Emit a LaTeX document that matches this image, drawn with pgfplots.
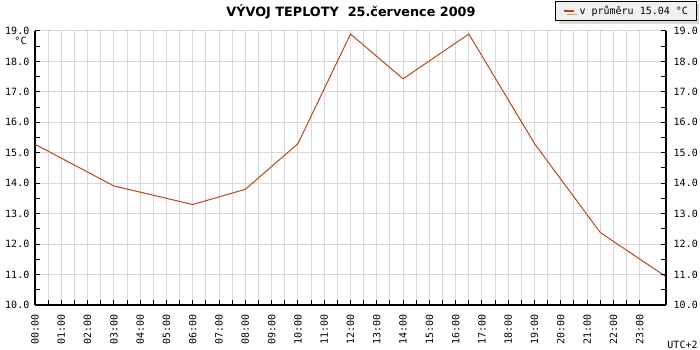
\documentclass[border=0pt]{standalone}
\usepackage{fontspec}
\setmainfont{DejaVu Sans}
\setmonofont{DejaVu Sans Mono}
\usepackage{pgfplots}
\pgfplotsset{compat=1.18}
\usetikzlibrary{shadows}
\definecolor{tline}{RGB}{184,72,24}
\definecolor{tgrid}{RGB}{216,216,216}
\newcommand\tickfont{\ttfamily\fontsize{10}{12}\selectfont}
\begin{document}
\begin{tikzpicture}[x=1pt,y=1pt]
\path[use as bounding box] (0,0) rectangle (700,350);
\begin{axis}[
 at={(35pt,45pt)}, anchor=south west, scale only axis, width=631pt, height=274pt,
 xmin=0,xmax=24,ymin=10,ymax=19,
 axis x line=bottom, axis y line=left, axis line style={-, line width=1.2pt},
 tick align=inside, major tick length=5pt, minor tick length=5pt,
 tick style={black, line width=1pt},
 xtick={0,...,23}, minor x tick num=1,
 xticklabels={00:00,01:00,02:00,03:00,04:00,05:00,06:00,07:00,08:00,09:00,10:00,11:00,12:00,13:00,14:00,15:00,16:00,17:00,18:00,19:00,20:00,21:00,22:00,23:00},
 x tick label style={rotate=90, anchor=east, inner sep=9pt},
 ytick={10,...,19}, minor y tick num=1,
 y tick label style={inner sep=5.5pt, /pgf/number format/fixed, /pgf/number format/fixed zerofill, /pgf/number format/precision=1},
 grid style={tgrid, line width=1pt}, xmajorgrids, xminorgrids, ymajorgrids,
 tick label style={font=\tickfont},
 /pgf/number format/assume math mode=true,
 legend style={at={(axis description cs:1.049,1.1095)}, anchor=north east, draw=black, fill=gray!12, line width=1pt,
   drop shadow={shadow xshift=3pt, shadow yshift=-3pt, fill=gray!60},
   font=\tickfont, inner xsep=6.5pt, inner ysep=2.5pt},
 legend cell align=left,
 legend image code/.code={\draw[#1, line width=2pt] (0pt,0pt) -- (10pt,0pt); \path (-1pt,0pt) (13.5pt,0pt);},
]
\addplot[tline, line width=1pt] coordinates {
(0,15.28) (3,13.91) (6,13.3) (8,13.8) (10,15.3) (12,18.9) (14,17.43) (16.5,18.9) (19,15.3) (21.5,12.38) (24,10.93)
};
\addlegendentry{v průměru 15.04 °C}
\end{axis}
\begin{axis}[
 at={(35pt,45pt)}, anchor=south west, scale only axis, width=631pt, height=274pt,
 xmin=0,xmax=24,ymin=10,ymax=19,
 axis x line=none, axis y line=right, axis line style={-, line width=1.2pt},
 tick align=inside, major tick length=5pt, minor tick length=5pt,
 tick style={black, line width=1pt},
 xtick=\empty,
 ytick={10,...,19}, minor y tick num=1,
 y tick label style={inner sep=7.5pt, /pgf/number format/fixed, /pgf/number format/fixed zerofill, /pgf/number format/precision=1},
 tick label style={font=\tickfont},
 /pgf/number format/assume math mode=true,
]
\addplot[draw=none, forget plot] coordinates {(0,10)};
\end{axis}
\node[font=\bfseries\fontsize{12.8}{15}\selectfont] at (351,338) {VÝVOJ TEPLOTY\ \ 25.července 2009};
\node[font=\tickfont] at (20.5,309.5) {°C};
\node[font=\tickfont] at (682.5,5) {UTC+2};
\end{tikzpicture}
\end{document}
